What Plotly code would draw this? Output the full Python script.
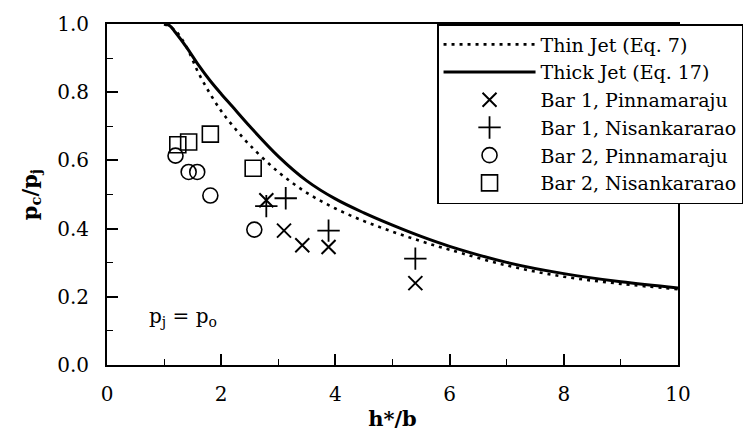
import plotly.graph_objects as go

# ---- data ----
thin_x = [1.0, 1.2, 1.4, 1.6, 1.8, 2.0, 2.2, 2.5, 3.0, 3.5, 4.0, 4.5, 5.0, 5.5, 6.0, 7.0, 8.0, 9.0, 10.0]
thin_y = [1.0, 0.98, 0.93, 0.857, 0.797, 0.745, 0.702, 0.645, 0.566, 0.505, 0.459, 0.422, 0.391, 0.363, 0.338, 0.292, 0.259, 0.238, 0.222]

thick_x = [1.0, 1.1, 1.2, 1.4, 1.6, 1.8, 2.0, 2.2, 2.5, 3.0, 3.5, 4.0, 4.5, 5.0, 5.5, 6.0, 7.0, 8.0, 9.0, 10.0]
thick_y = [1.0, 0.995, 0.975, 0.93, 0.88, 0.835, 0.795, 0.757, 0.700, 0.612, 0.540, 0.487, 0.446, 0.410, 0.377, 0.348, 0.301, 0.268, 0.244, 0.226]

b1p_x = [2.79, 3.10, 3.42, 3.88, 5.40]
b1p_y = [0.483, 0.394, 0.351, 0.346, 0.240]

b1n_x = [2.79, 3.13, 3.88, 5.40]
b1n_y = [0.466, 0.489, 0.394, 0.312]

b2p_x = [1.20, 1.43, 1.58, 1.81, 2.58]
b2p_y = [0.614, 0.566, 0.566, 0.497, 0.397]

b2n_x = [1.24, 1.43, 1.81, 2.56]
b2n_y = [0.646, 0.654, 0.677, 0.577]

x_ticks = [0, 2, 4, 6, 8, 10]
y_ticks = [0.0, 0.2, 0.4, 0.6, 0.8, 1.0]

FONT = "DejaVu Serif"

fig = go.Figure()
fig.add_trace(go.Scatter(x=thin_x, y=thin_y, mode="lines", name="Thin Jet (Eq. 7)",
                         line=dict(color="black", width=2.6, dash="3px,5px", shape="spline")))
fig.add_trace(go.Scatter(x=thick_x, y=thick_y, mode="lines", name="Thick Jet (Eq. 17)",
                         line=dict(color="black", width=3, shape="spline")))
fig.add_trace(go.Scatter(x=b1p_x, y=b1p_y, mode="markers", name="Bar 1, Pinnamaraju",
                         marker=dict(symbol="x-thin-open", size=14, color="black",
                                     line=dict(color="black", width=2))))
fig.add_trace(go.Scatter(x=b1n_x, y=b1n_y, mode="markers", name="Bar 1, Nisankararao",
                         marker=dict(symbol="cross-thin-open", size=16, color="black",
                                     line=dict(color="black", width=1.8))))
fig.add_trace(go.Scatter(x=b2p_x, y=b2p_y, mode="markers", name="Bar 2, Pinnamaraju",
                         marker=dict(symbol="circle-open", size=15, color="black",
                                     line=dict(color="black", width=1.6))))
fig.add_trace(go.Scatter(x=b2n_x, y=b2n_y, mode="markers", name="Bar 2, Nisankararao",
                         marker=dict(symbol="square-open", size=16, color="black",
                                     line=dict(color="black", width=1.6))))

axis_common = dict(
    showline=True, linecolor="black", linewidth=2, mirror=True,
    ticks="inside", ticklen=11, tickwidth=1.5, tickcolor="black",
    showgrid=False, zeroline=False,
    tickfont=dict(family=FONT, size=20, color="black"),
)

fig.update_xaxes(range=[0, 10], tickvals=x_ticks, ticktext=[str(v) for v in x_ticks],
                 minor=dict(ticks="inside", ticklen=6, tickwidth=1.2, tickcolor="black", dtick=1),
                 ticklabelstandoff=10,
                 title=dict(text="<b>h*/b</b>", font=dict(family=FONT, size=21, color="black"), standoff=6),
                 **axis_common)
fig.update_yaxes(range=[0, 1], tickvals=y_ticks, ticktext=[f"{v:.1f}" for v in y_ticks],
                 minor=dict(ticks="inside", ticklen=6, tickwidth=1.2, tickcolor="black", dtick=0.1),
                 ticklabelstandoff=12,
                 title=dict(text="<b>p<sub>c</sub>/p<sub>j</sub></b>", font=dict(family=FONT, size=21, color="black"), standoff=14),
                 **axis_common)

fig.add_annotation(x=0.7, y=0.14, xref="x", yref="y", xanchor="left", yanchor="middle",
                   text="p<sub>j</sub> = p<sub>o</sub>", showarrow=False,
                   font=dict(family=FONT, size=20, color="black"))

fig.update_layout(
    width=755, height=439,
    margin=dict(l=107, r=74, t=16, b=73),
    paper_bgcolor="white", plot_bgcolor="white",
    showlegend=True,
    legend=dict(x=0.578, y=1.0, xanchor="left", yanchor="top",
                bgcolor="white", bordercolor="black", borderwidth=1.5,
                font=dict(family=FONT, size=19, color="black"),
                itemwidth=92, tracegroupgap=0),
)

fig.write_html("out.html")
